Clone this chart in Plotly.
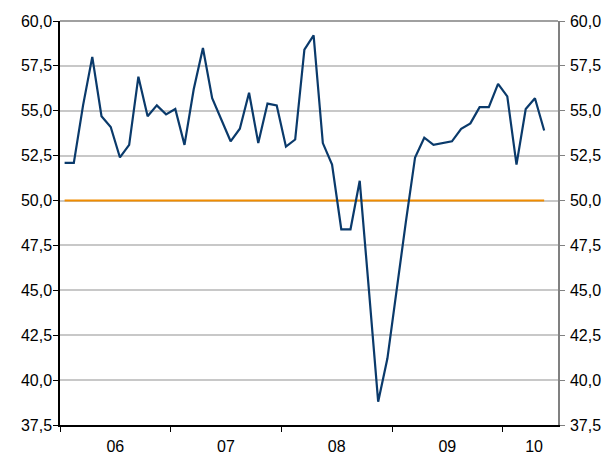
import plotly.graph_objects as go

# Monthly index values, Jan 2006 - May 2010
months = [f"{y}-{m:02d}" for y in range(2006, 2011) for m in range(1, 13)][:53]
values = [
    52.1, 52.1, 55.3, 58.0, 54.7, 54.1, 52.4, 53.1, 56.9, 54.7, 55.3, 54.8,   # 2006
    55.1, 53.1, 56.2, 58.5, 55.7, 54.5, 53.3, 54.0, 56.0, 53.2, 55.4, 55.3,   # 2007
    53.0, 53.4, 58.4, 59.2, 53.2, 52.0, 48.4, 48.4, 51.1, 45.0, 38.8, 41.2,   # 2008
    45.1, 48.8, 52.4, 53.5, 53.1, 53.2, 53.3, 54.0, 54.3, 55.2, 55.2, 56.5,   # 2009
    55.8, 52.0, 55.1, 55.7, 53.9,                                             # 2010
]
threshold = [50.0] * len(values)
year_labels = ["06", "07", "08", "09", "10"]
year_label_pos = [6, 18, 30, 42, 51.4]
year_bounds = [0, 12, 24, 36, 48]

x = [i + 0.5 for i in range(len(values))]

fig = go.Figure()
fig.add_trace(go.Scatter(x=x, y=threshold, mode="lines",
                         line=dict(color="#F08C00", width=2), hoverinfo="skip"))
fig.add_trace(go.Scatter(x=x, y=values, mode="lines",
                         line=dict(color="#0A3A6B", width=2.2), text=months))
fig.add_trace(go.Scatter(x=[x[0]], y=[values[0]], yaxis="y2", mode="markers",
                         marker=dict(opacity=0), hoverinfo="skip"))

font = dict(family="Liberation Sans, Arial, sans-serif", size=16, color="#000000")

fig.update_layout(
    width=611, height=454,
    margin=dict(l=60, r=53, t=21, b=29, autoexpand=False),
    paper_bgcolor="white", plot_bgcolor="white",
    showlegend=False,
    separators=",.",
    font=font,
    xaxis=dict(
        range=[0, 54], showgrid=False, zeroline=False,
        showline=True, linecolor="#000000", linewidth=1.5,
        tickmode="array", tickvals=year_label_pos, ticktext=year_labels,
        ticks="", tickfont=font, ticklabelstandoff=6,
        minor=dict(tickmode="array", tickvals=year_bounds, ticks="outside",
                   ticklen=5, tickcolor="#000000", tickwidth=1, showgrid=False),
    ),
    yaxis=dict(
        range=[37.5, 60], dtick=2.5, tick0=37.5, tickformat=".1f",
        showgrid=True, gridcolor="#C8C8C8", gridwidth=1.5, zeroline=False,
        showline=True, linecolor="#000000", linewidth=1.5,
        ticks="outside", ticklen=5, tickcolor="#000000", tickfont=font,
        ticklabelstandoff=-2,
    ),
    yaxis2=dict(
        range=[37.5, 60], dtick=2.5, tick0=37.5, tickformat=".1f",
        overlaying="y", side="right", showgrid=False, zeroline=False,
        showline=True, linecolor="#808080", linewidth=1.5,
        ticks="outside", ticklen=5, tickcolor="#808080", tickfont=font,
        ticklabelstandoff=2,
    ),
    shapes=[dict(type="line", xref="paper", yref="paper", x0=0, x1=1, y0=1, y1=1,
                 line=dict(color="#808080", width=1.5))],
)

fig.write_html("out.html", config={"displayModeBar": False},
               post_script="document.body.style.margin='0';")
